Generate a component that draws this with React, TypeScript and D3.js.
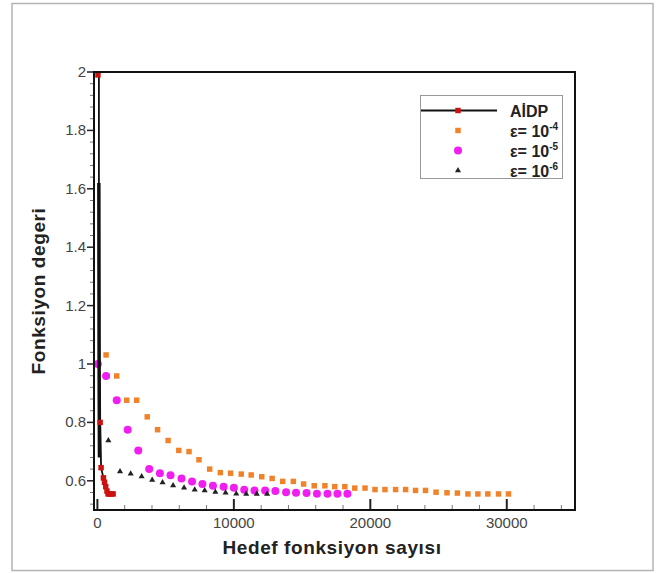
import React, { useEffect, useRef } from 'react';
import * as d3 from 'd3';

// AİDP: line path and red markers
const aidpLineX = [110, 110, 140, 200, 270, 440, 610, 780, 1150];
const aidpLineY = [2.0, 1.62, 0.95, 0.8, 0.645, 0.61, 0.58, 0.555, 0.555];
const aidpDenseX = [105, 125, 150];
const aidpDenseY = [1.62, 1.0, 0.68];
const aidpMarkX = [40, 200, 270, 440, 520, 610, 700, 780, 900, 1020, 1150];
const aidpMarkY = [1.99, 0.8, 0.645, 0.61, 0.595, 0.58, 0.565, 0.555, 0.555, 0.555, 0.555];

// ε = 1e-4 (orange squares)
const eps4X = [635, 1416, 2146, 2876, 3650, 4409, 5182, 5964, 6715, 7445, 8226, 9007, 9759, 10540, 11270, 12044, 12803, 13577, 14358, 15109, 15890, 16672, 17394, 18131, 18861, 19613, 20343, 21073, 21853, 22584, 23314, 24044, 24818, 25620, 26380, 27153, 27883, 28613, 29394, 30124];
const eps4Y = [1.031, 0.959, 0.876, 0.876, 0.819, 0.775, 0.738, 0.704, 0.7, 0.672, 0.64, 0.628, 0.626, 0.623, 0.62, 0.614, 0.608, 0.598, 0.598, 0.589, 0.583, 0.583, 0.58, 0.58, 0.575, 0.575, 0.57, 0.57, 0.57, 0.57, 0.567, 0.567, 0.561, 0.559, 0.558, 0.555, 0.555, 0.555, 0.555, 0.555];

// ε = 1e-5 (magenta circles)
const eps5X = [30, 635, 1416, 2219, 2993, 3796, 4577, 5358, 6161, 6934, 7693, 8467, 9248, 10000, 10759, 11511, 12292, 13044, 13825, 14555, 15328, 16088, 16861, 17591, 18321];
const eps5Y = [1.0, 0.959, 0.876, 0.775, 0.704, 0.64, 0.626, 0.619, 0.608, 0.598, 0.589, 0.583, 0.58, 0.576, 0.569, 0.567, 0.567, 0.565, 0.561, 0.559, 0.558, 0.556, 0.556, 0.556, 0.556];

// ε = 1e-6 (black triangles)
const eps6X = [803, 1657, 2438, 3241, 4015, 4774, 5547, 6350, 7131, 7861, 8642, 9394, 10175, 10905, 11679, 12438];
const eps6Y = [0.738, 0.632, 0.624, 0.615, 0.603, 0.594, 0.584, 0.576, 0.569, 0.567, 0.562, 0.559, 0.556, 0.555, 0.555, 0.555];

const xMajorTicks = [0, 10000, 20000, 30000];
const yMajorTicks = [0.6, 0.8, 1, 1.2, 1.4, 1.6, 1.8, 2];
const legendLabels = ['AİDP', '-4', '-5', '-6'];

const FONT = '"Liberation Sans", Arial, Helvetica, sans-serif';

export default function App() {
  const ref = useRef<SVGSVGElement>(null);

  useEffect(() => {
    const svg = d3.select(ref.current);
    svg.selectAll('*').remove();

    const left = 94, right = 575, top = 72, bottom = 510;

    const x = d3.scaleLinear().domain([-250, 35000]).range([left, right]);
    const y = d3.scaleLinear().domain([0.5, 2]).range([bottom, top]);

    // outer frame
    svg.append('rect')
      .attr('x', 12).attr('y', 3.5).attr('width', 641).attr('height', 567)
      .attr('fill', '#fff').attr('stroke', '#b4b4b4').attr('stroke-width', 1.5);

    const zip = (xs: number[], ys: number[]) => xs.map((v, i) => [v, ys[i]] as [number, number]);

    // x ticks (inward)
    const xMinor = d3.range(0, 35001, 2000).filter(v => !xMajorTicks.includes(v));
    svg.append('g').selectAll('line').data(xMinor).join('line')
      .attr('x1', d => x(d)).attr('x2', d => x(d))
      .attr('y1', bottom).attr('y2', bottom - 5)
      .attr('stroke', '#777').attr('stroke-width', 1);
    svg.append('g').selectAll('line').data(xMajorTicks).join('line')
      .attr('x1', d => x(d)).attr('x2', d => x(d))
      .attr('y1', bottom).attr('y2', bottom - 11)
      .attr('stroke', '#222').attr('stroke-width', 2);
    svg.append('g').selectAll('text').data(xMajorTicks).join('text')
      .attr('x', d => x(d)).attr('y', 528)
      .attr('text-anchor', 'middle')
      .attr('font-family', FONT).attr('font-size', 15).attr('fill', '#444')
      .text(d => String(d));

    // y ticks (outward)
    const yMinor = d3.range(0, 38).map(i => 0.52 + i * 0.04)
      .filter(v => v <= 2.001 && !yMajorTicks.some(t => Math.abs(t - v) < 1e-6));
    svg.append('g').selectAll('line').data(yMinor).join('line')
      .attr('x1', left - 4).attr('x2', left)
      .attr('y1', d => y(d)).attr('y2', d => y(d))
      .attr('stroke', '#777').attr('stroke-width', 1);
    svg.append('g').selectAll('line').data(yMajorTicks).join('line')
      .attr('x1', left - 7).attr('x2', left)
      .attr('y1', d => y(d)).attr('y2', d => y(d))
      .attr('stroke', '#222').attr('stroke-width', 1.5);
    svg.append('g').selectAll('text').data(yMajorTicks).join('text')
      .attr('x', left - 8).attr('y', d => y(d) + 5)
      .attr('text-anchor', 'end')
      .attr('font-family', FONT).attr('font-size', 15).attr('fill', '#444')
      .text(d => String(d));

    // axis titles
    svg.append('text')
      .attr('x', 332).attr('y', 554)
      .attr('text-anchor', 'middle')
      .attr('font-family', FONT).attr('font-size', 19).attr('font-weight', 'bold')
      .attr('letter-spacing', 0.6).attr('fill', '#222')
      .text('Hedef fonksiyon sayısı');
    svg.append('text')
      .attr('transform', `translate(45,${(top + bottom) / 2}) rotate(-90)`)
      .attr('text-anchor', 'middle')
      .attr('font-family', FONT).attr('font-size', 19).attr('font-weight', 'bold')
      .attr('letter-spacing', 0.6).attr('fill', '#222')
      .text('Fonksiyon degeri');

    // series
    const plot = svg.append('g');
    const sq = d3.symbol().type(d3.symbolSquare).size(30);
    const tri = d3.symbol().type(d3.symbolTriangle).size(16);

    plot.selectAll('path.e4').data(zip(eps4X, eps4Y)).join('path')
      .attr('class', 'e4')
      .attr('transform', d => `translate(${x(d[0])},${y(d[1])})`)
      .attr('d', sq).attr('fill', '#f0822a');

    plot.selectAll('circle.e5').data(zip(eps5X, eps5Y)).join('circle')
      .attr('class', 'e5')
      .attr('cx', d => x(d[0])).attr('cy', d => y(d[1])).attr('r', 4)
      .attr('fill', '#f01ef0');

    plot.selectAll('path.e6').data(zip(eps6X, eps6Y)).join('path')
      .attr('class', 'e6')
      .attr('transform', d => `translate(${x(d[0])},${y(d[1])})`)
      .attr('d', tri).attr('fill', '#222');

    const line = d3.line<[number, number]>().x(d => x(d[0])).y(d => y(d[1]));
    plot.append('path')
      .attr('d', line(zip(aidpLineX, aidpLineY)))
      .attr('fill', 'none').attr('stroke', '#111').attr('stroke-width', 1.8);
    plot.append('path')
      .attr('d', line(zip(aidpDenseX, aidpDenseY)))
      .attr('fill', 'none').attr('stroke', '#111').attr('stroke-width', 3.5);
    plot.selectAll('path.aidp').data(zip(aidpMarkX, aidpMarkY)).join('path')
      .attr('class', 'aidp')
      .attr('transform', d => `translate(${x(d[0])},${y(d[1])})`)
      .attr('d', sq).attr('fill', '#cc1111');

    // plot frame
    svg.append('rect')
      .attr('x', left).attr('y', top).attr('width', right - left).attr('height', bottom - top)
      .attr('fill', 'none').attr('stroke', '#111').attr('stroke-width', 2);

    // legend
    const lg = svg.append('g');
    lg.append('rect')
      .attr('x', 420.5).attr('y', 95.5).attr('width', 142).attr('height', 83)
      .attr('fill', '#fff').attr('stroke', '#999').attr('stroke-width', 1);
    const rowY = [110.5, 130.5, 150.5, 170.5];
    const mx = 458;
    lg.append('line').attr('x1', 421).attr('x2', 497).attr('y1', rowY[0]).attr('y2', rowY[0])
      .attr('stroke', '#111').attr('stroke-width', 2);
    lg.append('path').attr('transform', `translate(${mx},${rowY[0]})`).attr('d', sq).attr('fill', '#cc1111');
    lg.append('path').attr('transform', `translate(${mx},${rowY[1]})`).attr('d', sq).attr('fill', '#f0822a');
    lg.append('circle').attr('cx', mx).attr('cy', rowY[2]).attr('r', 4).attr('fill', '#f01ef0');
    lg.append('path').attr('transform', `translate(${mx},${rowY[3]})`).attr('d', tri).attr('fill', '#222');

    legendLabels.forEach((lab, i) => {
      const t = lg.append('text')
        .attr('x', 510).attr('y', rowY[i] + 6)
        .attr('font-family', FONT).attr('font-size', 16).attr('font-weight', 'bold').attr('fill', '#222');
      if (i === 0) {
        t.text(lab);
      } else {
        t.append('tspan').text('ε= 10');
        t.append('tspan').attr('font-size', 10).attr('dy', -7).text(lab);
      }
    });
  }, []);

  return (
    <svg ref={ref} width={660} height={573}
      style={{ position: 'absolute', left: 0, top: 0, background: '#fff' }} />
  );
}
